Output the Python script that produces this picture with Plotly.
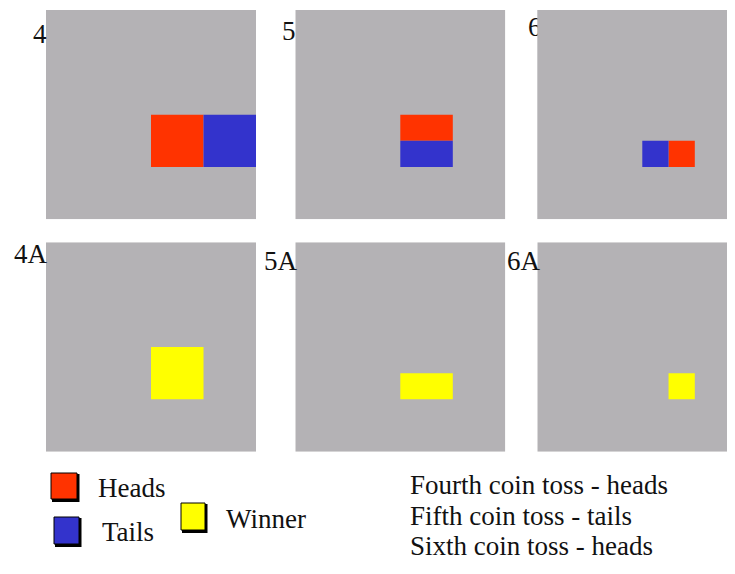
import plotly.graph_objects as go

# ---------------- data (grid units: 4 x 4 per panel, x to the right, y downward) ----
panel_names = ["4", "5", "6", "4A", "5A", "6A"]

heads_panel = ["4", "5", "6"]
heads_x0 = [2.0, 2.0, 2.5]
heads_x1 = [3.0, 3.0, 3.0]
heads_y0 = [2.0, 2.0, 2.5]
heads_y1 = [3.0, 2.5, 3.0]

tails_panel = ["4", "5", "6"]
tails_x0 = [3.0, 2.0, 2.0]
tails_x1 = [4.0, 3.0, 2.5]
tails_y0 = [2.0, 2.5, 2.5]
tails_y1 = [3.0, 3.0, 3.0]

winner_panel = ["4A", "5A", "6A"]
winner_x0 = [2.0, 2.0, 2.5]
winner_x1 = [3.0, 3.0, 3.0]
winner_y0 = [2.0, 2.5, 2.5]
winner_y1 = [3.0, 3.0, 3.0]

legend_labels = ["Heads", "Tails", "Winner"]
toss_notes = ["Fourth coin toss - heads", "Fifth coin toss - tails", "Sixth coin toss - heads"]

# ---------------- styling / layout ----------------
PW, PH = 735, 574          # browser window
OFF = 8                    # default body margin of the html page
FW, FH = PW - OFF, PH - 2 * OFF
GRID = 4.0
GRAY = "#b4b2b5"
RED = "#ff3300"
BLUE = "#3333cc"
YELLOW = "#ffff00"
INK = "#111111"
FONT = "Liberation Serif, Times New Roman, serif"
FS = 27


def fx(px):
    return (px - OFF) / FW


def fy(py):
    return 1 - (py - OFF) / FH


col_px = [(46.0, 256.0), (295.3, 505.3), (537.3, 747.3)]
row_px = [(10.0, 219.3), (242.3, 451.7)]
# panel whose label is partly hidden behind it: extend its axes to the left
extend_left = {"6": 515.0}

fig = go.Figure()
layout_axes = {}
axis_of = {}
for i, name in enumerate(panel_names):
    r, c = divmod(i, 3)
    x0, x1 = col_px[c]
    y0, y1 = row_px[r]
    unit = (x1 - x0) / GRID
    vis_x0 = extend_left.get(name, x0)
    vis_x1 = min(x1, PW)
    n = i + 1
    sfx = "" if n == 1 else str(n)
    axis_of[name] = ("x" + sfx, "y" + sfx)
    layout_axes["xaxis" + sfx] = dict(
        domain=[fx(vis_x0), fx(vis_x1)],
        range=[(vis_x0 - x0) / unit, (vis_x1 - x0) / unit],
        visible=False, fixedrange=True, anchor="y" + sfx)
    layout_axes["yaxis" + sfx] = dict(
        domain=[fy(y1), fy(y0)], range=[GRID, 0],
        visible=False, fixedrange=True, anchor="x" + sfx)

# label "6" drawn first inside panel 6's axes so the gray panel covers its right part
xa6, ya6 = axis_of["6"]
unit6 = (col_px[2][1] - col_px[2][0]) / GRID
unity = (row_px[0][1] - row_px[0][0]) / GRID
fig.add_trace(go.Scatter(
    x=[(528.0 - col_px[2][0]) / unit6], y=[(39 - 9.4 - row_px[0][0]) / unity],
    mode="text", text=["6"], textposition="middle right",
    textfont=dict(family=FONT, size=FS, color=INK),
    xaxis=xa6, yaxis=ya6, hoverinfo="skip", showlegend=False))

# gray panels
for name in panel_names:
    xa, ya = axis_of[name]
    fig.add_trace(go.Scatter(
        x=[0, GRID, GRID, 0, 0], y=[0, 0, GRID, GRID, 0], mode="lines",
        fill="toself", fillcolor=GRAY, line=dict(width=0, color=GRAY),
        xaxis=xa, yaxis=ya, hoverinfo="skip", showlegend=False))


def add_cells(panels, xs0, xs1, ys0, ys1, color):
    for p, a, b, c, d in zip(panels, xs0, xs1, ys0, ys1):
        xa, ya = axis_of[p]
        fig.add_trace(go.Scatter(
            x=[a, b, b, a, a], y=[c, c, d, d, c], mode="lines",
            fill="toself", fillcolor=color, line=dict(width=0, color=color),
            xaxis=xa, yaxis=ya, hoverinfo="skip", showlegend=False))


add_cells(heads_panel, heads_x0, heads_x1, heads_y0, heads_y1, RED)
add_cells(tails_panel, tails_x0, tails_x1, tails_y0, tails_y1, BLUE)
add_cells(winner_panel, winner_x0, winner_x1, winner_y0, winner_y1, YELLOW)

# Other panel labels (left x of glyph, baseline in px)
label_pos = {"4": (30.5, 43), "5": (279.5, 40), "4A": (11.5, 263),
             "5A": (261.5, 270), "6A": (504.5, 270)}
annotations = []
for name, (lx, base) in label_pos.items():
    annotations.append(dict(
        text=name, x=fx(lx), y=fy(base - 9.1), xref="paper", yref="paper",
        xanchor="left", yanchor="middle", showarrow=False,
        font=dict(family=FONT, size=FS, color=INK)))

# Legend keys
shapes = []
key_boxes = [(51, 473, 77, 499, RED), (54, 517, 79, 544, BLUE), (181, 503, 205, 530, YELLOW)]
for (a, b, c, d, col) in key_boxes:
    shapes.append(dict(type="rect", xref="paper", yref="paper",
                       x0=fx(a + 1), x1=fx(c + 2.5), y0=fy(d + 3), y1=fy(b + 1),
                       fillcolor="#000000", line=dict(width=0)))
    shapes.append(dict(type="rect", xref="paper", yref="paper",
                       x0=fx(a), x1=fx(c), y0=fy(d), y1=fy(b),
                       fillcolor=col, line=dict(width=1, color="#000000")))

legend_text_pos = [(95.5, 497), (100.5, 541), (223.5, 528)]
for txt, (lx, base) in zip(legend_labels, legend_text_pos):
    annotations.append(dict(
        text=txt, x=fx(lx), y=fy(base - 9.1), xref="paper", yref="paper",
        xanchor="left", yanchor="middle", showarrow=False,
        font=dict(family=FONT, size=FS, color=INK)))

note_base = [494.5, 525, 555]
for txt, base in zip(toss_notes, note_base):
    annotations.append(dict(
        text=txt, x=fx(407.5), y=fy(base - 9.1), xref="paper", yref="paper",
        xanchor="left", yanchor="middle", showarrow=False,
        font=dict(family=FONT, size=FS, color=INK)))

fig.update_layout(
    width=FW, height=FH, margin=dict(l=0, r=0, t=0, b=0),
    paper_bgcolor="#ffffff", plot_bgcolor="rgba(0,0,0,0)",
    showlegend=False, annotations=annotations, shapes=shapes,
    **layout_axes)

fig.write_html("out.html", config={"displayModeBar": False})
